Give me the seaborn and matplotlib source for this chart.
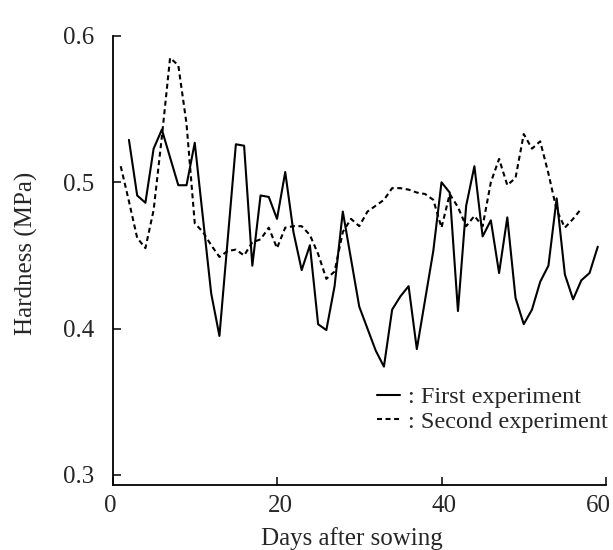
import matplotlib
matplotlib.use("Agg")
import matplotlib.pyplot as plt
import matplotlib.transforms as mtransforms
import seaborn as sns
import pandas as pd
from matplotlib.lines import Line2D

# First experiment (solid line)
days_first = [2, 3, 4, 5, 6, 8, 9, 10, 12, 13, 15, 16, 17, 18, 19, 20,
              21, 22, 23, 24, 25, 26, 27, 28, 30, 32, 33, 34, 35, 36, 37,
              39, 40, 41, 42, 43, 44, 45, 46, 47, 48, 49, 50, 51, 52, 53,
              54, 55, 56, 57, 58, 59]
hard_first = [0.529, 0.491, 0.486, 0.523, 0.536, 0.498, 0.498, 0.527, 0.424, 0.395,
              0.526, 0.525, 0.443, 0.491, 0.490, 0.475,
              0.507, 0.466, 0.440, 0.457, 0.403, 0.399, 0.429, 0.480, 0.415, 0.385,
              0.374, 0.413, 0.422, 0.429, 0.386,
              0.453, 0.500, 0.493, 0.412, 0.484, 0.511, 0.463, 0.474, 0.438, 0.476,
              0.421, 0.403, 0.413, 0.432, 0.443,
              0.489, 0.437, 0.420, 0.433, 0.438, 0.456]

# Second experiment (dashed line)
days_second = list(range(1, 58))
hard_second = [0.511, 0.487, 0.462, 0.455, 0.481, 0.531, 0.585, 0.580, 0.540, 0.472,
               0.466, 0.457, 0.449, 0.453, 0.454, 0.450, 0.459, 0.461, 0.469, 0.455,
               0.469, 0.470, 0.470, 0.464, 0.451, 0.434, 0.439, 0.466, 0.475, 0.470,
               0.480, 0.484, 0.488, 0.496, 0.496, 0.495, 0.493, 0.492, 0.488, 0.469,
               0.492, 0.483, 0.470, 0.477, 0.470, 0.500, 0.516, 0.498, 0.503, 0.533,
               0.523, 0.528, 0.506, 0.481, 0.469, 0.475, 0.482]

x_ticks = [0, 20, 40, 60]
y_ticks = [0.3, 0.4, 0.5, 0.6]
x_label = "Days after sowing"
y_label = "Hardness (MPa)"
legend_labels = [": First experiment", ": Second experiment"]

sns.set_style("ticks")
plt.rcParams['font.family'] = ['Liberation Serif', 'DejaVu Serif']

W, H = 613, 550
fig = plt.figure(figsize=(W / 100, H / 100), dpi=100)
left_px, right_px, top_px, bottom_px = 112.5, 606.0, 36.0, 485.0
ax = fig.add_axes([left_px / W, 1 - bottom_px / H,
                   (right_px - left_px) / W, (bottom_px - top_px) / H])

dash = (0, (2.4, 1.7))
df1 = pd.DataFrame({"day": days_first, "hardness": hard_first})
df2 = pd.DataFrame({"day": days_second, "hardness": hard_second})
sns.lineplot(data=df1, x="day", y="hardness", ax=ax, color="black", linewidth=1.5)
sns.lineplot(data=df2, x="day", y="hardness", ax=ax, color="black", linewidth=1.5,
             linestyle=dash)

ax.set_xlim(0, 60)
ax.set_ylim(0.6 - (bottom_px - top_px) / 1463.0, 0.6)
ax.set_xticks(x_ticks)
ax.set_xticklabels([str(v) for v in x_ticks])
ax.set_yticks(y_ticks)
ax.set_yticklabels([f"{v:.1f}" for v in y_ticks])
ax.tick_params(axis="both", direction="in", length=6, width=1.1, labelsize=18, color="black")
ax.tick_params(axis="y", pad=13)
ax.tick_params(axis="x", pad=7)
for s in ["top", "right"]:
    ax.spines[s].set_visible(False)
for s in ["left", "bottom"]:
    ax.spines[s].set_linewidth(1.3)
    ax.spines[s].set_color("black")

# nudge x tick labels toward the reference positions (last one kept inside the canvas)
shifts_px = [-2, 3, 3, -8]
for lbl, dx in zip(ax.get_xticklabels(), shifts_px):
    lbl.set_transform(lbl.get_transform() +
                      mtransforms.ScaledTranslation(dx / 100, 0, fig.dpi_scale_trans))

ax.set_xlabel(x_label, fontsize=18)
ax.set_ylabel(y_label, fontsize=18)
ax.xaxis.set_label_coords((352 - left_px) / (right_px - left_px), (bottom_px - 539) / (bottom_px - top_px))
ax.xaxis.label.set_va("center")
ax.yaxis.set_label_coords((26 - left_px) / (right_px - left_px), (bottom_px - 253) / (bottom_px - top_px))
ax.yaxis.label.set_va("center")

handles = [Line2D([], [], color="black", linewidth=1.5),
           Line2D([], [], color="black", linewidth=1.5, linestyle=dash)]
ax.legend(handles, legend_labels, loc="center left",
          bbox_to_anchor=(376.7 / W, 1 - 409.5 / H), bbox_transform=fig.transFigure,
          frameon=False, fontsize=17.5, handlelength=0.95, handletextpad=0.35,
          borderpad=0, borderaxespad=0, labelspacing=0.1)

fig.savefig("out.png", dpi=100)
